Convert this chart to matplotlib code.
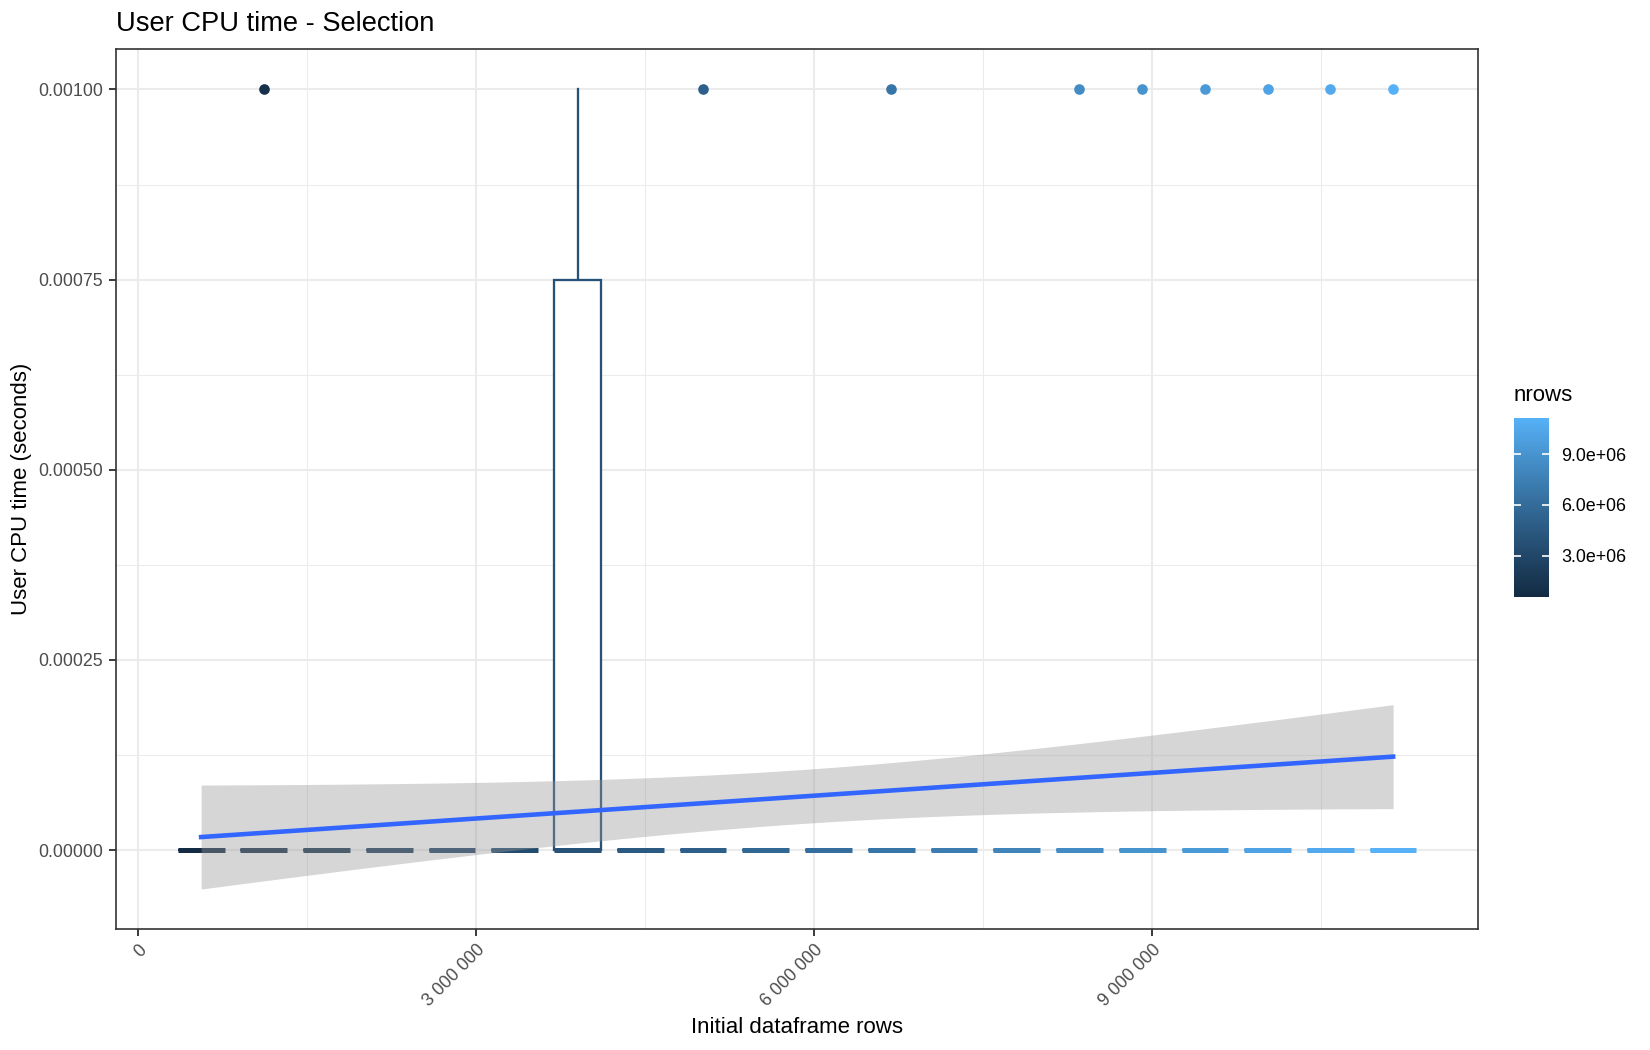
import numpy as np
import matplotlib
matplotlib.use("Agg")
import matplotlib.pyplot as plt
from matplotlib.patches import Rectangle
from matplotlib.colors import LinearSegmentedColormap, Normalize
from matplotlib.cm import ScalarMappable
from matplotlib.ticker import FixedLocator, FuncFormatter

plt.rcParams['font.family'] = ['Liberation Sans', 'DejaVu Sans']

# ---------------- data ----------------
nrows = [557000, 1114000, 1671000, 2228000, 2785000, 3342000, 3899000,
         4456000, 5013000, 5570000, 6127000, 6684000, 7241000, 7798000,
         8355000, 8912000, 9469000, 10026000, 10583000, 11140000]
reps_per_group = 10
# number of repetitions per group that measured 0.001 s (the rest measured 0 s)
n_at_1ms = [0, 1, 0, 0, 0, 0, 3, 0, 1, 0, 0, 1, 0, 0, 2, 1, 1, 1, 1, 2]
measured_value = 0.001

x_ticks = [0, 3000000, 6000000, 9000000]
x_minor = [1500000, 4500000, 7500000, 10500000]
y_ticks = [0.0, 0.00025, 0.0005, 0.00075, 0.001]
y_minor = [0.000125, 0.000375, 0.000625, 0.000875]
cbar_ticks = [3000000, 6000000, 9000000]

title = "User CPU time - Selection"
xlabel = "Initial dataframe rows"
ylabel = "User CPU time (seconds)"
legend_title = "nrows"

# ---------------- style ----------------
BOX_WIDTH = 415000
LOW_COL = "#132B43"
HIGH_COL = "#56B1F7"


def _srgb2lin(c):
    c = np.asarray(c, float)
    return np.where(c <= 0.04045, c / 12.92, ((c + 0.055) / 1.055) ** 2.4)


def _lin2srgb(c):
    c = np.clip(np.asarray(c, float), 0, None)
    return np.where(c <= 0.0031308, 12.92 * c, 1.055 * c ** (1 / 2.4) - 0.055)


_M = np.array([[0.4124564, 0.3575761, 0.1804375],
               [0.2126729, 0.7151522, 0.0721750],
               [0.0193339, 0.1191920, 0.9503041]])
_W = np.array([0.95047, 1.0, 1.08883])
_d = 6 / 29


def _f(t):
    return np.where(t > _d ** 3, np.cbrt(t), t / (3 * _d ** 2) + 4 / 29)


def _finv(t):
    return np.where(t > _d, t ** 3, 3 * _d ** 2 * (t - 4 / 29))


def hex2lab(h):
    rgb = np.array([int(h[i:i + 2], 16) / 255 for i in (1, 3, 5)])
    xyz = _M @ _srgb2lin(rgb) / _W
    fx, fy, fz = _f(xyz)
    return np.array([116 * fy - 16, 500 * (fx - fy), 200 * (fy - fz)])


def lab2rgb(lab):
    L, a, b = lab
    fy = (L + 16) / 116
    fx = fy + a / 500
    fz = fy - b / 200
    xyz = np.array([_finv(fx), _finv(fy), _finv(fz)]) * _W
    lin = np.linalg.solve(_M, xyz)
    return np.clip(_lin2srgb(lin), 0, 1)


lab_lo, lab_hi = hex2lab(LOW_COL), hex2lab(HIGH_COL)
cols = [lab2rgb(lab_lo + t * (lab_hi - lab_lo)) for t in np.linspace(0, 1, 256)]
cmap = LinearSegmentedColormap.from_list("gg", cols)
norm = Normalize(vmin=min(nrows), vmax=max(nrows))

# ---------------- observations ----------------
x_obs, y_obs = [], []
for nr, c in zip(nrows, n_at_1ms):
    vals = [measured_value] * c + [0.0] * (reps_per_group - c)
    x_obs += [nr] * reps_per_group
    y_obs += vals
x_obs = np.array(x_obs, float)
y_obs = np.array(y_obs, float)

# ---------------- figure ----------------
fig = plt.figure(figsize=(11, 7), dpi=150)
ax = fig.add_axes([0.0702, 0.1152, 0.8258, 0.8377])

TXT = "#4D4D4D"
ax.set_facecolor("white")
for s in ax.spines.values():
    s.set_color("#333333")
    s.set_linewidth(0.8)

# boxplots
for nr in nrows:
    ys = y_obs[x_obs == nr]
    col = cmap(norm(nr))
    q1, med, q3 = np.percentile(ys, [25, 50, 75])
    iqr = q3 - q1
    inside = ys[(ys >= q1 - 1.5 * iqr) & (ys <= q3 + 1.5 * iqr)]
    lo, hi = inside.min(), inside.max()
    outl = np.unique(ys[(ys < q1 - 1.5 * iqr) | (ys > q3 + 1.5 * iqr)])
    if hi > q3:
        ax.plot([nr, nr], [q3, hi], color=col, lw=1.1, zorder=2)
    if lo < q1:
        ax.plot([nr, nr], [lo, q1], color=col, lw=1.1, zorder=2)
    ax.add_patch(Rectangle((nr - BOX_WIDTH / 2, q1), BOX_WIDTH, q3 - q1,
                           facecolor="white", edgecolor=col, lw=1.1, zorder=2))
    ax.plot([nr - BOX_WIDTH / 2, nr + BOX_WIDTH / 2], [med, med], color=col,
            lw=2.4, solid_capstyle="butt", zorder=2.1)
    if len(outl):
        ax.scatter([nr] * len(outl), outl, s=26, color=col, zorder=2.2,
                   linewidths=0)

# linear fit with 95% CI
n = len(x_obs)
slope, intercept = np.polyfit(x_obs, y_obs, 1)
resid = y_obs - (intercept + slope * x_obs)
sigma = np.sqrt(np.sum(resid ** 2) / (n - 2))
xm = x_obs.mean()
sxx = np.sum((x_obs - xm) ** 2)
xs = np.linspace(x_obs.min(), x_obs.max(), 80)
fit = intercept + slope * xs
se = sigma * np.sqrt(1 / n + (xs - xm) ** 2 / sxx)
tq = 1.972
ax.fill_between(xs, fit - tq * se, fit + tq * se, color="#999999", alpha=0.4,
                lw=0, zorder=3)
ax.plot(xs, fit, color="#3366FF", lw=2.2, zorder=4)

# limits (ggplot-like expansion)
x0, x1 = min(nrows) - BOX_WIDTH / 2, max(nrows) + BOX_WIDTH / 2
ax.set_xlim(x0 - 0.05 * (x1 - x0), x1 + 0.05 * (x1 - x0))
y0 = min(0.0, (fit - tq * se).min())
y1 = max(y_obs.max(), (fit + tq * se).max())
ax.set_ylim(y0 - 0.05 * (y1 - y0), y1 + 0.05 * (y1 - y0))

# grid
ax.xaxis.set_major_locator(FixedLocator(x_ticks))
ax.xaxis.set_minor_locator(FixedLocator(x_minor))
ax.yaxis.set_major_locator(FixedLocator(y_ticks))
ax.yaxis.set_minor_locator(FixedLocator(y_minor))
ax.grid(True, which="major", color="#EBEBEB", lw=1.0, zorder=0)
ax.grid(True, which="minor", color="#EBEBEB", lw=0.5, zorder=0)
ax.set_axisbelow(True)
ax.tick_params(which="minor", length=0)
ax.tick_params(which="major", length=3.5, width=0.9, color="#333333",
               labelcolor=TXT, labelsize=8.6, pad=2.5)
ax.xaxis.set_major_formatter(FuncFormatter(lambda v, p: f"{int(round(v)):,}".replace(",", " ")))
ax.yaxis.set_major_formatter(FuncFormatter(lambda v, p: f"{v:.5f}"))
for lab in ax.get_xticklabels():
    lab.set_rotation(45)
    lab.set_ha("right")
    lab.set_va("top")
    lab.set_rotation_mode("anchor")

ax.set_title(title, loc="left", fontsize=13.1, pad=9, color="black")
fig.text(0.4831, 0.0215, xlabel, ha="center", va="center", fontsize=10.7)
fig.text(0.0128, 0.1152 + 0.8377 / 2, ylabel, ha="center", va="center",
         rotation=90, fontsize=10.7)

# colorbar
cax = fig.add_axes([0.9176, 0.4314, 0.0212, 0.1705])
cb = fig.colorbar(ScalarMappable(norm=norm, cmap=cmap), cax=cax)
cb.outline.set_visible(False)
cb.set_ticks(cbar_ticks)
cb.set_ticklabels([f"{v:.1e}" for v in cbar_ticks])
cax.tick_params(length=0, labelsize=8.6, pad=6, labelcolor="black")
cax.hlines(cbar_ticks, 0, 0.2, transform=cax.get_yaxis_transform(),
           colors="white", lw=0.8)
cax.hlines(cbar_ticks, 0.8, 1.0, transform=cax.get_yaxis_transform(),
           colors="white", lw=0.8)
fig.text(0.9176, 0.6185, legend_title, ha="left", va="baseline", fontsize=10.7)

fig.savefig("out.png", dpi=150)
